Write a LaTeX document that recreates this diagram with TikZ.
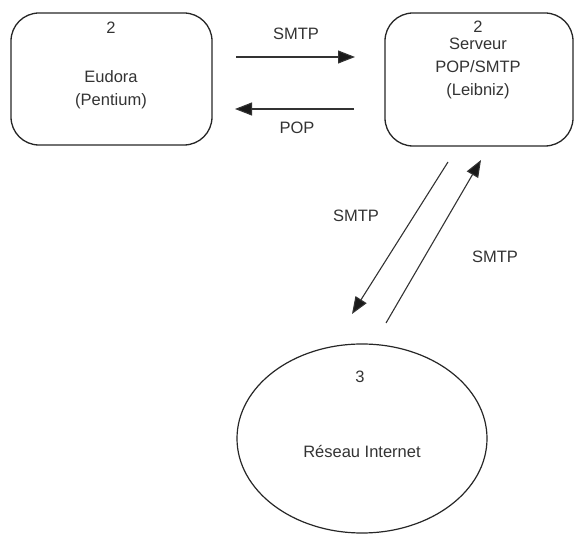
\documentclass[tikz,border=0pt]{standalone}
\usepackage{fontspec}
\setmainfont{Liberation Sans}
\usetikzlibrary{arrows.meta,shapes.geometric}
\tikzset{
  box/.style={draw=black!85, line width=1.3pt, rounded corners=28pt, inner sep=0pt},
  lbl/.style={inner sep=0pt, text=black!80, font=\fontsize{16.5}{18}\selectfont},
  conn/.style={draw=black!80, line width=1.1pt, -{Triangle[length=17pt,width=13pt,fill=black!90]}},
}
\begin{document}
\begin{tikzpicture}[x=1pt,y=-1pt]
\useasboundingbox (0,0) rectangle (579,534);
% boxes
\node[box, minimum width=201pt, minimum height=132pt] (eud) at (111.5,79) {};
\node[box, minimum width=188pt, minimum height=133pt] (srv) at (479,79.5) {};
\node[draw=black!85, line width=1.2pt, ellipse, minimum width=250pt, minimum height=189pt, inner sep=0pt] (net) at (362,438.5) {};
% texts
\node[lbl] (e2) at (111,28) {2};
\node[lbl] (e1) at (111,77) {Eudora};
\node[lbl] (e3) at (111,101) {(Pentium)};
\node[lbl] (s2) at (478,27) {2};
\node[lbl] (s1) at (478,44) {Serveur};
\node[lbl] (s3) at (478,67) {POP/SMTP};
\node[lbl] (s4) at (478,91) {(Leibniz)};
\node[lbl] (n3) at (360,377) {3};
\node[lbl] (n1) at (362,452) {Réseau Internet};
\node[lbl] (t1) at (296,34) {SMTP};
\node[lbl] (t2) at (297,128) {POP};
\node[lbl] (t3) at (356,216) {SMTP};
\node[lbl] (t4) at (495,257) {SMTP};
% connector ends
\coordinate (a1) at (236,57);
\coordinate (a2) at (355,57);
\coordinate (b1) at (354,109);
\coordinate (b2) at (235,109);
\coordinate (c1) at (448,162);
\coordinate (c2) at (352,314);
\coordinate (d1) at (386,323);
\coordinate (d2) at (481,160);
\draw[conn] (a1) -- (a2);
\draw[conn] (b1) -- (b2);
\draw[conn] (c1) -- (c2);
\draw[conn] (d1) -- (d2);
\end{tikzpicture}
\end{document}
